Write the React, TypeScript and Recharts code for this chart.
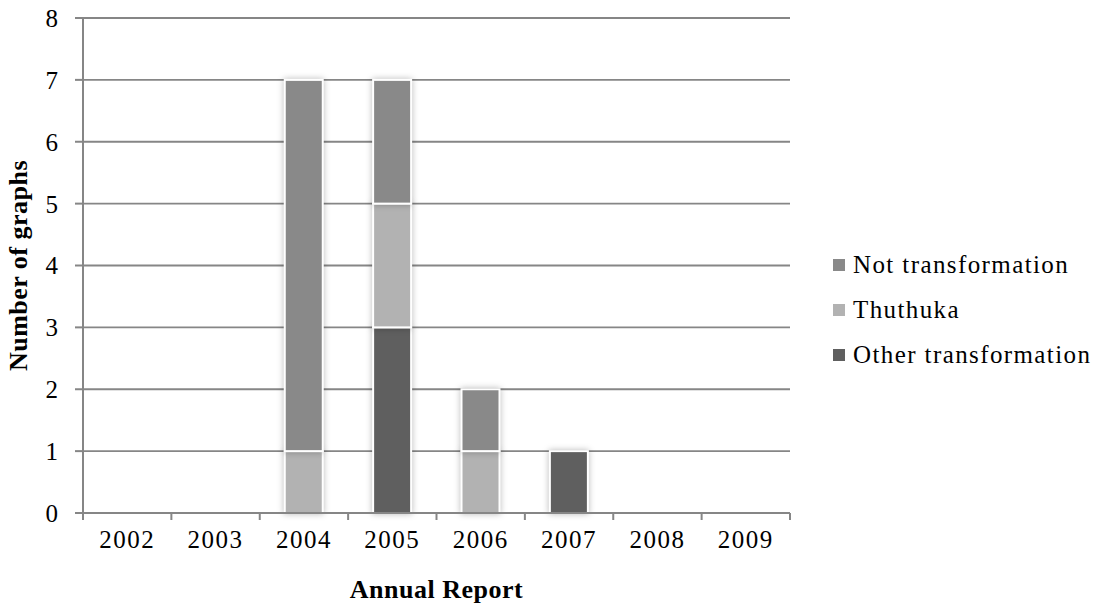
import { BarChart, Bar, XAxis, YAxis, CartesianGrid, Legend } from "recharts";

const years = ["2002", "2003", "2004", "2005", "2006", "2007", "2008", "2009"];
const otherTransformation = [0, 0, 0, 3, 0, 1, 0, 0];
const thuthuka = [0, 0, 1, 2, 1, 0, 0, 0];
const notTransformation = [0, 0, 6, 2, 1, 0, 0, 0];
const yTicks = [0, 1, 2, 3, 4, 5, 6, 7, 8];

const FONT = "'Liberation Serif', 'Times New Roman', serif";
const AXIS = "#868686";

// stacking order, bottom to top
const series = [
  { key: "other", name: "Other transformation", color: "#5f5f5f" },
  { key: "thuthuka", name: "Thuthuka", color: "#b2b2b2" },
  { key: "notTrans", name: "Not transformation", color: "#898989" },
];

const data = years.map((year, i) => ({
  year,
  other: otherTransformation[i],
  thuthuka: thuthuka[i],
  notTrans: notTransformation[i],
}));

const BAND = (790 - 83) / years.length;

// Category label in the middle, tick marks on the band edges
function YearTick(props: any) {
  const { x, y, payload, index } = props;
  const half = payload?.offset || BAND / 2;
  const last = index === years.length - 1;
  return (
    <g>
      <line x1={x - half} x2={x - half} y1={y - 8} y2={y - 1} stroke={AXIS} strokeWidth={2} />
      {last && <line x1={x + half} x2={x + half} y1={y - 8} y2={y - 1} stroke={AXIS} strokeWidth={2} />}
      <text
        x={x}
        y={y + 27}
        textAnchor="middle"
        fontFamily={FONT}
        fontSize={25}
        letterSpacing={1.5}
        fill="#000"
      >
        {payload.value}
      </text>
    </g>
  );
}

function ShadowRect(props: any) {
  const { x, y, width, height, fill } = props;
  if (!height || height <= 0) return null;
  return (
    <rect
      x={x}
      y={y}
      width={width}
      height={height}
      fill={fill}
      stroke="#fff"
      strokeWidth={2}
      style={{ filter: "drop-shadow(0 0 3px rgba(0,0,0,0.28))" }}
    />
  );
}

// legend lists the top segment first
function SideLegend() {
  const items = [...series].reverse();
  return (
    <div style={{ paddingLeft: 43 }}>
      {items.map((item) => (
        <div
          key={item.key}
          style={{ display: "flex", alignItems: "center", height: 45, fontFamily: FONT, fontSize: 25, letterSpacing: 1.4, color: "#000", whiteSpace: "nowrap" }}
        >
          <span style={{ display: "inline-block", flexShrink: 0, width: 12, height: 12, background: item.color, marginRight: 8 }} />
          {item.name}
        </div>
      ))}
    </div>
  );
}

export default function App() {
  return (
    <div style={{ position: "absolute", left: 0, top: 0, width: 1103, height: 604, background: "#fff", overflow: "hidden" }}>
      <BarChart
        width={1103}
        height={604}
        data={data}
        barSize={38}
        margin={{ top: 18, right: 20, left: 0, bottom: 0 }}
      >
        <CartesianGrid vertical={false} stroke={AXIS} strokeWidth={1.8} />
        <XAxis
          dataKey="year"
          height={91}
          axisLine={{ stroke: AXIS, strokeWidth: 2 }}
          tickLine={false}
          tick={<YearTick />}
          interval={0}
          label={{
            value: "Annual Report",
            position: "insideBottom",
            offset: 6,
            style: { fontFamily: FONT, fontSize: 26, fontWeight: "bold", fill: "#000", letterSpacing: 0.5 },
          }}
        />
        <YAxis
          width={83}
          domain={[0, 8]}
          ticks={yTicks}
          interval={0}
          axisLine={{ stroke: AXIS, strokeWidth: 2 }}
          tickLine={{ stroke: AXIS, strokeWidth: 2 }}
          tickSize={8}
          tickMargin={17}
          tick={{ fontFamily: FONT, fontSize: 25, fill: "#000" }}
          label={{
            value: "Number of graphs",
            angle: -90,
            position: "insideLeft",
            offset: 18,
            style: { fontFamily: FONT, fontSize: 26, fontWeight: "bold", fill: "#000", textAnchor: "middle", letterSpacing: 0.5 },
          }}
        />
        <Legend
          layout="vertical"
          align="right"
          verticalAlign="middle"
          width={293}
          content={<SideLegend />}
          wrapperStyle={{ top: 242, overflow: "visible" }}
        />
        {series.map((s) => (
          <Bar
            key={s.key}
            dataKey={s.key}
            name={s.name}
            stackId="a"
            fill={s.color}
            shape={<ShadowRect />}
            isAnimationActive={false}
          />
        ))}
      </BarChart>
    </div>
  );
}
